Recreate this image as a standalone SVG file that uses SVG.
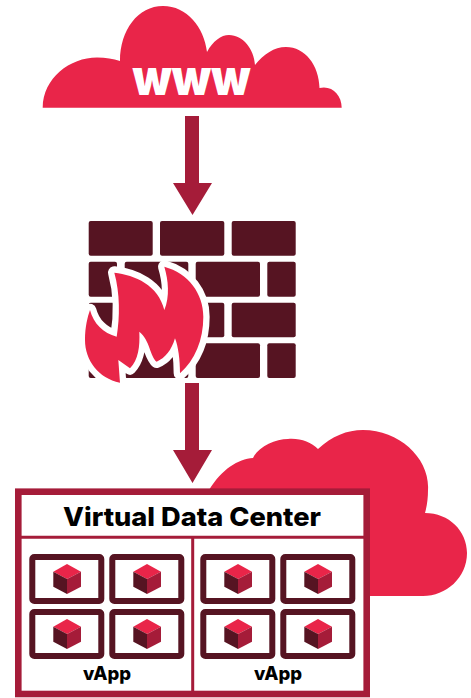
<svg xmlns="http://www.w3.org/2000/svg" width="471" height="698" viewBox="0 0 471 698">
<style>
.red{fill:#e92549}.mid{fill:#a51c39}.dark{fill:#561422}
.t{font-family:Inter,"Liberation Sans",sans-serif;font-weight:800;fill:#000;text-anchor:middle}
.frame{fill:#fff;stroke:#561422;stroke-width:6;}
</style>
<defs>
<g id="vm">
<rect class="frame" x="3" y="3" width="69" height="44" rx="2"/>
<path class="red" d="M37.700 10L51.700 17.700L37.700 25L24 17.700Z"/>
<path class="dark" d="M24 17.700L37.700 25V40L24 32.700Z"/>
<path class="mid" d="M51.700 17.700L37.700 25V40L51.700 32.700Z"/>
</g>
</defs>
<g id="cloud-back"><path class="red" d="M209 490C222 469 238 459 253 458C258 447 275 439 288 439C300 438 311 442 318 449C332 436 347 430 363 430C400 430 430 459 428 490C428 498 427 506 425 513C449 513 467 531 467 553C467 578 446 596 423 596H360V490Z"/></g>
<g id="cloud-www"><path class="red" d="M42.700 107.700C43 78 70 57.500 97 57.500C106 57.500 113 59 120 61C120 30 138 6 163 6C187 6 204 27 207 52C213 41 221 35 229 35C243 35 254 49 255 65C264 54 274 47 286 47C305 47 319 65 319.500 88C332 85 341.700 95 341.700 107.700Z"/>
<text class="t" x="191.500" y="95" font-size="49" textLength="118" lengthAdjust="spacingAndGlyphs" style="fill:#fff;font-weight:900">www</text></g>
<g id="firewall">
<g class="dark">
<rect x="88.700" y="221" width="64" height="34.700" rx="2"/><rect x="160" y="221" width="64.300" height="34.700" rx="2"/><rect x="231.700" y="221" width="64" height="34.700" rx="2"/>
<rect x="88.700" y="261.700" width="28.300" height="35" rx="2"/><rect x="124.700" y="261.700" width="63.600" height="35" rx="2"/><rect x="195.700" y="261.700" width="64.300" height="35" rx="2"/><rect x="267.300" y="261.700" width="28.400" height="35" rx="2"/>
<rect x="88.700" y="302.700" width="64" height="34.600" rx="2"/><rect x="160" y="302.700" width="64.300" height="34.600" rx="2"/><rect x="231.700" y="302.700" width="64" height="34.600" rx="2"/>
<rect x="88.700" y="343.300" width="28.300" height="34.700" rx="2"/><rect x="124.700" y="343.300" width="63.600" height="34.700" rx="2"/><rect x="195.700" y="343.300" width="64.300" height="34.700" rx="2"/><rect x="267.300" y="343.300" width="28.400" height="34.700" rx="2"/>
</g>
<path class="red" transform="translate(75 210) scale(.3333)" stroke="#fff" stroke-width="38" stroke-linejoin="round" paint-order="stroke" d="M118 188C180 195 250 225 268 300C285 260 280 210 268 170C340 190 385 250 385 320C385 390 360 450 315 490C315 450 310 410 300 385C290 420 270 445 245 455C225 440 225 390 193 365C195 410 190 450 165 475L130 450L135 518C70 505 30 450 30 390C30 350 38 320 45 300C55 340 85 370 125 380C135 320 135 250 118 188Z"/>
</g>
<g id="connectors" class="mid">
<path d="M185 116H199V183H212L192.500 215L173 183H185Z"/>
<path d="M185 383H199V450H212L192.500 483L173 450H185Z"/>
</g>
<g id="data-center">
<rect x="18.300" y="491.700" width="348.400" height="202.300" fill="#fff" stroke="#a51c39" stroke-width="6.600"/>
<path d="M21 537.300H364M192.700 537V691" fill="none" stroke="#a51c39" stroke-width="3"/>
<text class="t" x="192" y="526" font-size="26" textLength="258" lengthAdjust="spacingAndGlyphs">Virtual Data Center</text>
</g>
<g id="vapp-1">
<use href="#vm" x="29.300" y="554"/><use href="#vm" x="109.300" y="554"/><use href="#vm" x="29.300" y="609"/><use href="#vm" x="109.300" y="609"/>
<text class="t" x="107" y="680" font-size="18.500">vApp</text>
</g>
<g id="vapp-2">
<use href="#vm" x="200.300" y="554"/><use href="#vm" x="280.300" y="554"/><use href="#vm" x="200.300" y="609"/><use href="#vm" x="280.300" y="609"/>
<text class="t" x="278" y="680" font-size="18.500">vApp</text>
</g>
</svg>
